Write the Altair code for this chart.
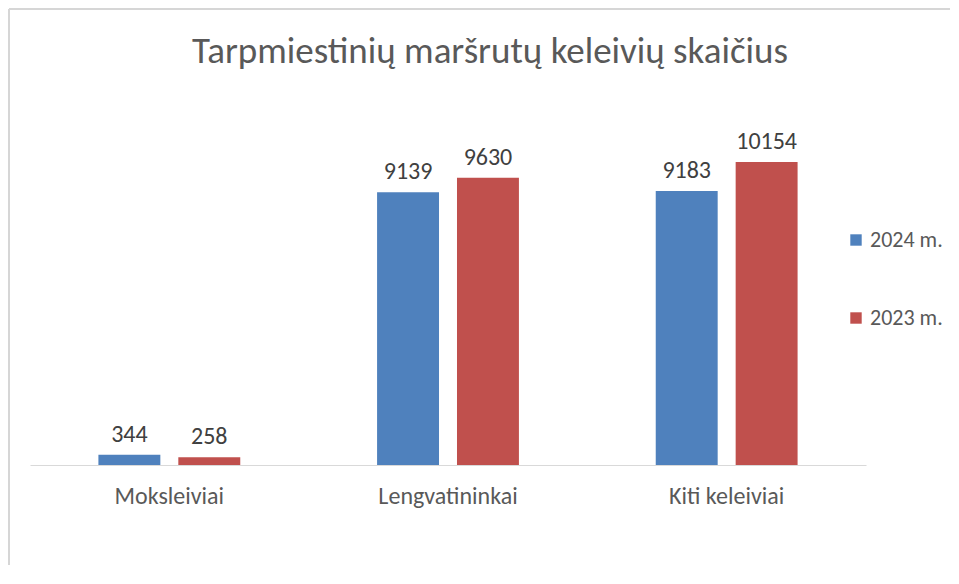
import altair as alt
import pandas as pd

categories = ["Moksleiviai", "Lengvatininkai", "Kiti keleiviai"]
series = ["2024 m.", "2023 m."]
values_2024 = [344, 9139, 9183]
values_2023 = [258, 9630, 10154]
colors = ["#4F81BD", "#C0504D"]

rows = []
for c, v in zip(categories, values_2024):
    rows.append({"cat": c, "year": "2024 m.", "value": v})
for c, v in zip(categories, values_2023):
    rows.append({"cat": c, "year": "2023 m.", "value": v})
df = pd.DataFrame(rows)

FONT = "Carlito, Calibri, Lato, sans-serif"

x = alt.X("cat:N", sort=categories, title=None,
          scale=alt.Scale(paddingInner=0, paddingOuter=0),
          axis=alt.Axis(labelAngle=0, ticks=False, domain=True, domainColor="#D9D9D9",
                        domainWidth=1, labelPadding=19, labelFontSize=24,
                        labelColor="#595959", labelFont=FONT, grid=False))
xo = alt.XOffset("year:N", sort=series,
                 scale=alt.Scale(paddingInner=0.225, paddingOuter=0.856))
y = alt.Y("value:Q", scale=alt.Scale(domain=[0, 12000], nice=False), axis=None)

bars = alt.Chart(df).mark_bar().encode(
    x=x, xOffset=xo, y=y,
    color=alt.Color("year:N", sort=series,
                    scale=alt.Scale(domain=series, range=colors),
                    legend=alt.Legend(title=None, orient="none", legendX=815, legendY=122,
                                      symbolType="square", symbolSize=130,
                                      symbolStrokeWidth=0,
                                      labelFontSize=22, labelColor="#595959",
                                      labelFont=FONT, rowPadding=56, labelOffset=3)),
)

labels = alt.Chart(df).mark_text(baseline="bottom", dy=-8, fontSize=24,
                                 color="#404040", font=FONT).encode(
    x=x, xOffset=xo, y=y, text=alt.Text("value:Q", format="d"))

border_left = alt.Chart(df).mark_rule(color="#D6D6D6", strokeWidth=2).encode(
    x=alt.value(-21), y=alt.value(-98), y2=alt.value(470))
border_top = alt.Chart(df).mark_rule(color="#D6D6D6", strokeWidth=2).encode(
    x=alt.value(-21), x2=alt.value(940), y=alt.value(-98))

chart = alt.layer(border_left, border_top, bars, labels).properties(
    width=836, height=358,
    background="white",
    title=alt.TitleParams("Tarpmiestinių maršrutų keleivių skaičius", fontSize=37,
                          font=FONT, fontWeight="normal", color="#595959",
                          anchor="middle", dx=42, offset=-63),
    autosize=alt.AutoSizeParams(type="none"),
    padding={"left": 22, "top": 99, "right": 84, "bottom": 100},
).configure_view(strokeWidth=0, stroke="transparent")

chart.save("out.html", embed_options={"renderer": "svg", "actions": False})
